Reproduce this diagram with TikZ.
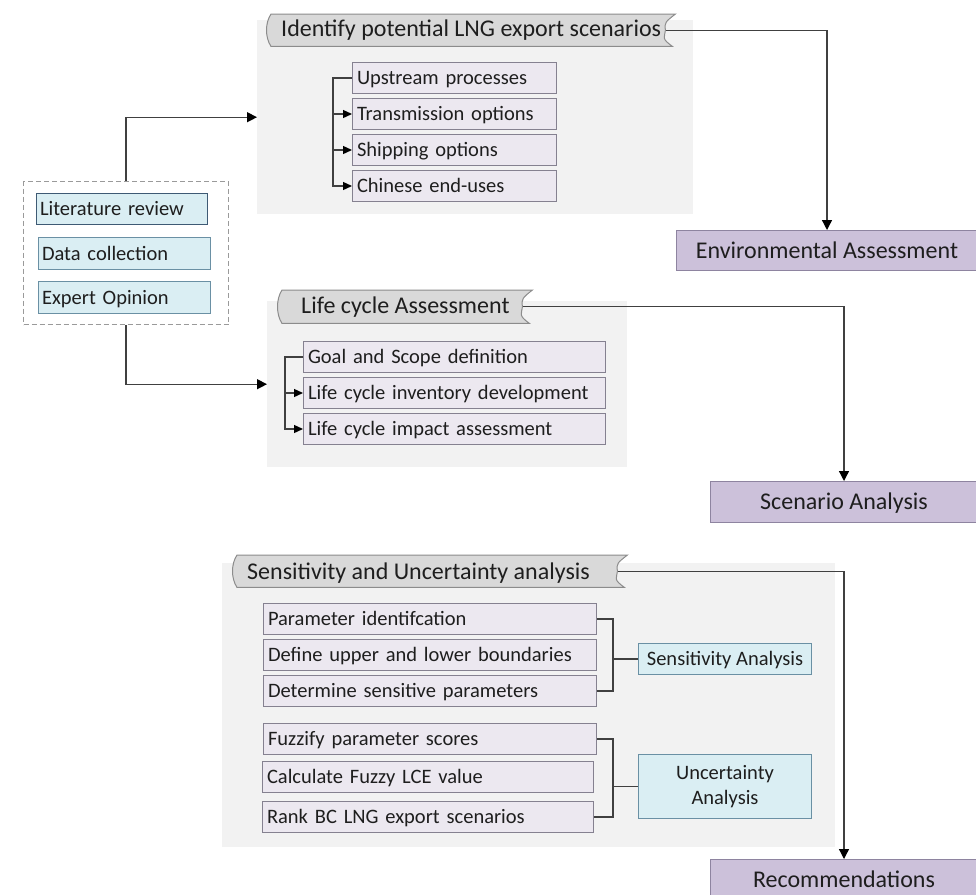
\documentclass[tikz,border=0pt]{standalone}
\usepackage{fontspec}
\setmainfont{Carlito}
\usetikzlibrary{arrows.meta}
\definecolor{panelgray}{HTML}{F2F2F2}
\definecolor{tabfill}{HTML}{D9D9D9}
\definecolor{tabedge}{HTML}{8C8C8C}
\definecolor{subfill}{HTML}{ECE8F0}
\definecolor{subedge}{HTML}{858190}
\definecolor{bluefill}{HTML}{DAEEF3}
\definecolor{blueedge}{HTML}{6A90A4}
\definecolor{blueedgedark}{HTML}{3E5A74}
\definecolor{purpfill}{HTML}{CCC1DA}
\definecolor{purpedge}{HTML}{8E84A0}
\definecolor{linecol}{HTML}{404040}
\definecolor{txt}{HTML}{1E1E1E}
\definecolor{dashcol}{HTML}{9A9A9A}
\pgfdeclarelayer{back}
\pgfdeclarelayer{lines}
\pgfsetlayers{back,lines,main}
\newcommand\mkLbox[8]{%
  \pgfmathsetmacro\mybw{#5-#3}\pgfmathsetmacro\mybh{#6-#4}\pgfmathsetmacro\mytw{#5-#3-2*#7}%
  \node[#1, minimum width=\mybw pt, minimum height=\mybh pt, inner xsep=#7pt, text width=\mytw pt, align=left] (#2) at (#3,#4) {#8};}
\newcommand\mkCbox[7]{%
  \pgfmathsetmacro\mybw{#5-#3}\pgfmathsetmacro\mybh{#6-#4}%
  \node[#1, minimum width=\mybw pt, minimum height=\mybh pt, align=center] (#2) at (#3,#4) {#7};}
\newcommand\mkTab[5]{%
  \pgfmathsetmacro\mybw{#4-#2}\pgfmathsetmacro\mybh{#5-#3}%
  \node[inner sep=0pt, anchor=north west, minimum width=\mybw pt, minimum height=\mybh pt] (#1) at (#2,#3) {};
  \path[tabshape] (#1.north west) .. controls +(-6,9) and +(-6,-9) .. (#1.south west)
    -- ([xshift=-3pt]#1.south east) .. controls +(-11,-8) and +(-1,8) .. ([xshift=-10pt]#1.east)
    .. controls +(-1,-8) and +(-10,8) .. (#1.north east) -- cycle;}
\tikzset{
  conn/.style={draw=linecol, line width=1.3pt},
  bigarr/.style={-{Triangle[length=10pt,width=10pt,color=black]}},
  smarr/.style={-{Triangle[length=9pt,width=8pt,color=black]}},
  panel/.style={fill=panelgray, draw=none, inner sep=0pt, anchor=north west},
  tabshape/.style={fill=tabfill, draw=tabedge, line width=1pt},
  tabtext/.style={font=\fontsize{24}{28}\selectfont, text=txt, anchor=base west, inner sep=0pt},
  subbox/.style={fill=subfill, draw=subedge, line width=1pt, font=\fontsize{20.5}{24}\selectfont, text=txt, inner ysep=0pt, text height=13.2pt, text depth=0pt, anchor=north west},
  bluebox/.style={fill=bluefill, draw=blueedge, line width=1pt, font=\fontsize{20.5}{24.5}\selectfont, text=txt, inner ysep=0pt, anchor=north west},
  blueone/.style={bluebox, text height=13.2pt, text depth=0pt},
  purpbox/.style={fill=purpfill, draw=purpedge, line width=1pt, font=\fontsize{24}{28}\selectfont, text=txt, inner ysep=0pt, text height=15.5pt, text depth=0pt, anchor=north west},
  grpbox/.style={draw=dashcol, line width=1pt, dash pattern=on 5pt off 3pt, inner sep=0pt, anchor=north west},
}
\begin{document}
\begin{tikzpicture}[x=1pt,y=-1pt]
\useasboundingbox (0,0) rectangle (976,894);
\clip (0,0) rectangle (976,894);
% panels
\begin{pgfonlayer}{back}
\node[panel, minimum width=436pt, minimum height=194pt] (panelA) at (257,20) {};
\node[panel, minimum width=360pt, minimum height=166pt] (panelB) at (267,301) {};
\node[panel, minimum width=613pt, minimum height=284pt] (panelC) at (222,563) {};
\end{pgfonlayer}
% group of inputs
\node[grpbox, minimum width=205pt, minimum height=143pt] (grp) at (23,181) {};
\mkLbox{blueone,draw=blueedgedark}{lit}{36}{193}{207}{224}{3.5}{Literature review}
\mkLbox{blueone}{dat}{38}{237}{210}{269}{3.5}{Data collection}
\mkLbox{blueone}{exp}{38}{281}{210}{313}{3.5}{Expert Opinion}
% outcome boxes
\mkCbox{purpbox}{env}{676}{230}{977}{270}{Environmental Assessment}
\mkCbox{purpbox}{scen}{710}{481}{977}{522}{Scenario Analysis}
\mkCbox{purpbox}{rec}{710}{859}{977}{900}{Recommendations}
% tabs (shapes)
\mkTab{tabA}{271}{14}{675}{46}
\mkTab{tabB}{282}{290}{532}{323}
\mkTab{tabC}{237}{555}{627}{587}
\node[tabtext] (tabAt) at (281,36.5) {Identify potential LNG export scenarios};
\node[tabtext] (tabBt) at (301,313) {Life cycle Assessment};
\node[tabtext] (tabCt) at (247,579) {Sensitivity and Uncertainty analysis};
% sub boxes panel A
\mkLbox{subbox}{up}{352}{62}{556}{93}{4.5}{Upstream processes}
\mkLbox{subbox}{tr}{352}{98}{556}{129}{4.5}{Transmission options}
\mkLbox{subbox}{sh}{352}{134}{556}{165}{4.5}{Shipping options}
\mkLbox{subbox}{ch}{352}{170}{556}{201}{4.5}{Chinese end-uses}
% sub boxes panel B
\mkLbox{subbox}{goal}{303}{341}{605}{372}{4.5}{Goal and Scope definition}
\mkLbox{subbox}{inv}{303}{377}{605}{408}{4.5}{Life cycle inventory development}
\mkLbox{subbox}{imp}{303}{413}{605}{444}{4.5}{Life cycle impact assessment}
% sub boxes panel C
\mkLbox{subbox}{pa}{263}{603}{596}{634}{4.5}{Parameter identifcation}
\mkLbox{subbox}{pb}{263}{639}{596}{670}{4.5}{Define upper and lower boundaries}
\mkLbox{subbox}{pc}{263}{675}{596}{706}{4.5}{Determine sensitive parameters}
\mkLbox{subbox}{fa}{263}{723}{596}{754}{4.5}{Fuzzify parameter scores}
\mkLbox{subbox}{fb}{262}{761}{593}{792}{4.5}{Calculate Fuzzy LCE value}
\mkLbox{subbox}{fc}{262}{801}{593}{832}{4.5}{Rank BC LNG export scenarios}
\mkCbox{blueone}{sens}{638}{643}{811}{674}{Sensitivity Analysis}
\mkCbox{bluebox}{unc}{638}{754}{811}{818}{Uncertainty\\Analysis}
% bracket coordinates
\coordinate (kA) at (333,0);
\coordinate (kB) at (285,0);
\coordinate (kC) at (613,0);
% connectors
\begin{pgfonlayer}{lines}
\draw[conn,bigarr] (grp.north) |- (panelA.west);
\draw[conn,bigarr] (grp.south) |- (panelB.west);
\draw[conn,bigarr] ([xshift=-12pt]tabA.east) -| (env.north);
\draw[conn,bigarr] ([xshift=-12pt]tabB.east) -| (scen.north);
\draw[conn,bigarr] ([xshift=-12pt]tabC.east) -| (rec.north);
\draw[conn,smarr] (up.west) -- (kA |- up.west) -- (kA |- ch.west) -- (ch.west);
\draw[conn,smarr] (kA |- tr.west) -- (tr.west);
\draw[conn,smarr] (kA |- sh.west) -- (sh.west);
\draw[conn,smarr] (goal.west) -- (kB |- goal.west) -- (kB |- imp.west) -- (imp.west);
\draw[conn,smarr] (kB |- inv.west) -- (inv.west);
\draw[conn] (pa.east) -- (kC |- pa.east) -- (kC |- pc.east) -- (pc.east);
\draw[conn] (kC |- sens.west) -- (sens.west);
\draw[conn] (fa.east) -- (kC |- fa.east) -- (kC |- fc.east) -- (fc.east);
\draw[conn] (kC |- unc.west) -- (unc.west);
\end{pgfonlayer}
\end{tikzpicture}
\end{document}
